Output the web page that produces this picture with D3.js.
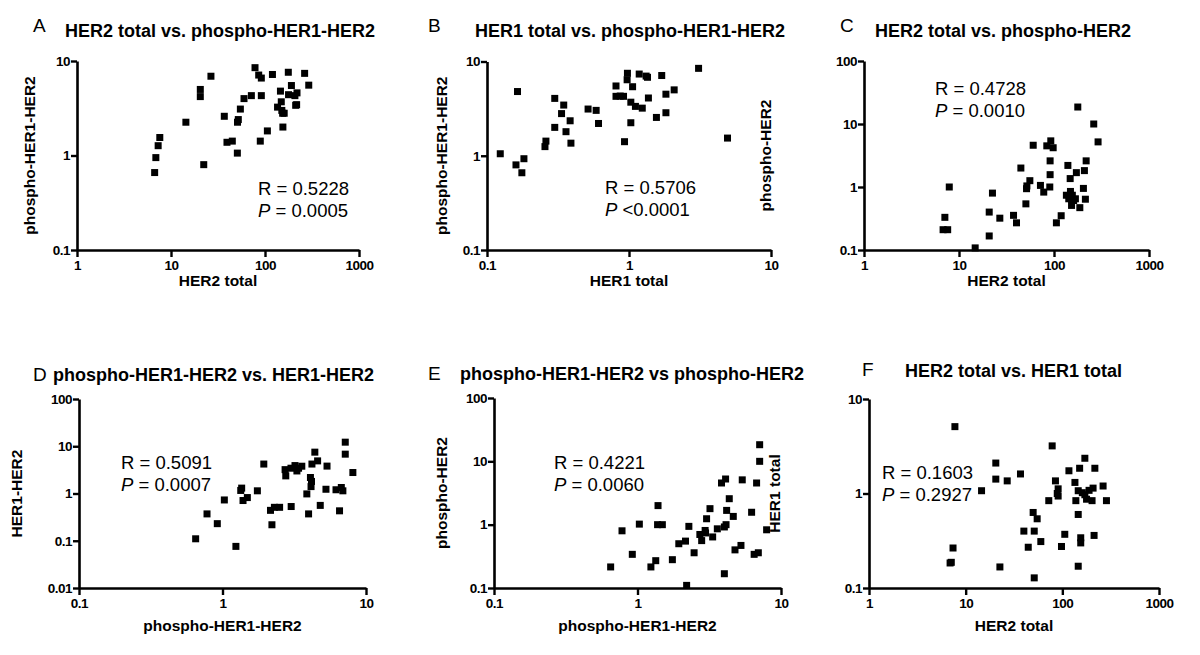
<!DOCTYPE html>
<html><head><meta charset="utf-8">
<script src="https://cdn.jsdelivr.net/npm/d3@7"></script>
<style>body{margin:0;background:#fff} text{font-family:"Liberation Sans",Arial,sans-serif;fill:#000}</style>
</head><body><svg id="c" width="1200" height="655"></svg>
<script>
// ---- data ----
const aX = [6.7,6.9,7.3,7.6,14.4,20.5,20.5,22.3,26.6,36.9,39.4,44.9,50.8,51,52,54.7,59.8,71.6,78.3,85.7,91.4,91.4,89.1,106,120,136,146,149,151,154,160,155,177,178,191,208,219,212,217,264,292];
const aY = [0.66,0.95,1.27,1.55,2.25,5.0,4.2,0.80,6.9,2.6,1.38,1.42,1.06,2.25,2.4,3.1,4.0,4.3,8.5,7.1,6.6,4.3,1.42,1.82,7.2,3.25,4.8,3.7,3.0,2.8,2.8,2.0,7.6,4.4,5.5,4.3,4.6,3.4,3.45,7.4,5.55];

const bX = [0.124,0.164,0.160,0.182,0.176,0.26,0.256,0.30,0.30,0.347,0.335,0.385,0.36,0.39,0.515,0.587,0.61,0.81,0.81,0.867,0.915,0.975,0.97,1.06,1.03,1.11,1.24,1.03,0.93,1.18,1.32,1.35,1.37,1.70,1.82,2.08,1.56,1.82,3.09,4.94];
const bY = [1.05,4.8,0.80,0.93,0.66,1.43,1.25,4.06,2.0,3.45,2.8,2.35,1.8,1.36,3.13,3.03,2.2,5.5,4.27,4.3,4.27,7.5,6.4,5.4,3.7,3.34,3.2,2.24,1.41,7.36,7.0,6.8,4.1,7.1,4.5,5.0,2.55,2.86,8.46,1.54];

const cX = [178,262,291,60.4,84,92.5,98,91,91,90.3,44.8,55.7,51.8,51.4,50.6,72,78,140,172,218,209,148,204,214,135,149,156,143,161,153,168,187,119,106,7.9,7.1,6.8,7.6,22.5,20.8,26.9,20.8,14.8,37.5,40.3];
const cY = [18.6,10,5.2,4.6,4.5,5.4,4.2,2.6,1.57,1.0,2.0,1.26,1.04,0.94,0.54,1.06,0.83,2.2,1.69,2.6,1.82,1.36,0.95,0.64,0.74,0.85,0.74,0.65,0.61,0.51,0.65,0.47,0.35,0.27,1.0,0.33,0.21,0.21,0.80,0.40,0.32,0.167,0.108,0.355,0.27];

const dX = [7.17,7.17,8.1,4.4,4.6,4.2,5.35,1.94,2.73,2.76,3.0,3.2,3.39,3.57,3.3,4.1,4.17,4.14,3.87,3.98,5.26,4.8,6.18,6.73,6.9,6.54,3.01,2.16,2.3,2.5,2.21,1.75,1.36,1.34,1.49,1.39,1.03,0.78,0.92,0.65,1.24];
const dY = [12.2,6.8,2.78,7.5,4.9,4.2,3.8,4.2,3.2,2.36,3.43,3.9,3.43,3.78,3.0,2.18,1.8,1.4,0.98,0.37,1.23,0.56,1.2,1.34,1.14,0.43,0.53,0.44,0.51,0.51,0.218,1.14,1.3,1.16,0.82,0.71,0.73,0.37,0.23,0.11,0.076];

const eX = [7.1,7.1,6.76,5.37,4.11,3.85,4.36,6.24,7.94,4.18,4.65,4.14,4.03,3.2,3.03,3.6,3.34,2.96,2.72,2.8,2.98,2.28,2.16,1.94,2.48,1.75,1.39,1.38,1.49,1.03,0.78,0.92,1.34,1.24,0.65,2.2,4.03,4.78,5.26,6.5,6.95];
const eY = [18.3,10,4.55,5.1,5.26,4.55,2.57,1.57,0.83,1.68,1.35,1.0,0.92,1.79,1.24,0.86,0.64,0.81,0.70,0.56,0.74,0.94,0.55,0.5,0.36,0.28,2.0,1.0,1.0,1.02,0.80,0.34,0.27,0.215,0.215,0.11,0.168,0.40,0.47,0.34,0.36];

const fX = [7.74,7.4,6.9,7.1,14.6,20.5,20.5,26.9,36.9,22.6,78.5,49.9,54.9,40,51.2,44.4,59.9,51.2,72.4,84.9,90.5,90.5,88.6,106,98,117,151,171,217,135,146,138,171,178,189,208,203,264,286,161,146,155,155,213,146];
const fY = [5.1,0.265,0.184,0.187,1.07,2.1,1.42,1.36,1.61,0.167,3.19,0.63,0.54,0.40,0.40,0.27,0.31,0.128,0.84,1.36,1.12,0.94,1.0,0.37,0.275,1.74,1.85,2.36,1.85,1.31,1.07,0.84,0.97,0.87,1.08,1.14,0.84,1.2,0.84,1.02,0.60,0.34,0.30,0.36,0.17];

// tick values
const ticks1to1000 = [1,10,100,1000];
const ticks01to10 = [0.1,1,10];
const ticks01to100 = [0.1,1,10,100];
const ticks001to100 = [0.01,0.1,1,10,100];

// panel texts
const letters = ['A','B','C','D','E','F'];
const titles = ['HER2 total vs. phospho-HER1-HER2','HER1 total vs. phospho-HER1-HER2','HER2 total vs. phospho-HER2',
  'phospho-HER1-HER2 vs. HER1-HER2','phospho-HER1-HER2 vs phospho-HER2','HER2 total vs. HER1 total'];
const xLabels = ['HER2 total','HER1 total','HER2 total','phospho-HER1-HER2','phospho-HER1-HER2','HER2 total'];
const yLabels = ['phospho-HER1-HER2','phospho-HER1-HER2','phospho-HER2','HER1-HER2','phospho-HER2','HER1 total'];
const rValues = ['0.5228','0.5706','0.4728','0.5091','0.4221','0.1603'];
const pValues = ['= 0.0005','<0.0001','= 0.0010','= 0.0007','= 0.0060','= 0.2927'];

// layout (pixels)
const panels = [
 {xs:aX,ys:aY,xd:[1,1000],yd:[0.1,10],xt:ticks1to1000,yt:ticks01to10,x0:77,x1:359,yb:250,yt0:61,let:[33,32],tit:[65,37],ylx:-47,xly:36,st:[258,195]},
 {xs:bX,ys:bY,xd:[0.1,10],yd:[0.1,10],xt:ticks01to10,yt:ticks01to10,x0:487,x1:771,yb:250,yt0:61.5,let:[428,32],tit:[475,37],ylx:-45.5,xly:36,st:[605,194]},
 {xs:cX,ys:cY,xd:[1,1000],yd:[0.1,100],xt:ticks1to1000,yt:ticks01to100,x0:864,x1:1149,yb:250,yt0:61,let:[840,32],tit:[875,37],ylx:-98,xly:36,st:[935,95]},
 {xs:dX,ys:dY,xd:[0.1,10],yd:[0.01,100],xt:ticks01to10,yt:ticks001to100,x0:79,x1:366,yb:588,yt0:399,let:[33,381],tit:[53,381],ylx:-62,xly:43,st:[121,469]},
 {xs:eX,ys:eY,xd:[0.1,10],yd:[0.1,100],xt:ticks01to10,yt:ticks01to100,x0:494,x1:781,yb:588,yt0:398,let:[428,380],tit:[460,380],ylx:-52.5,xly:43,st:[554,469]},
 {xs:fX,ys:fY,xd:[1,1000],yd:[0.1,10],xt:ticks1to1000,yt:ticks01to10,x0:869,x1:1159,yb:588,yt0:399,let:[862,376],tit:[905,377],ylx:-94,xly:43,st:[882,479]}
];

const svg = d3.select('#c');
svg.append('rect').attr('width',1200).attr('height',655).attr('fill','#fff');

const fmt = d => String(d);

panels.forEach((p,i) => {
  const g = svg.append('g');
  const x = d3.scaleLog().domain(p.xd).range([p.x0,p.x1]);
  const y = d3.scaleLog().domain(p.yd).range([p.yb,p.yt0]);

  // points
  g.append('g').selectAll('rect').data(p.xs.map((v,k)=>[v,p.ys[k]])).join('rect')
    .attr('x',d=>x(d[0])-3.5).attr('y',d=>y(d[1])-3.5)
    .attr('width',7).attr('height',7).attr('fill','#000');

  // axes
  const gx = g.append('g').attr('transform',`translate(0,${p.yb})`)
    .call(d3.axisBottom(x).tickValues(p.xt).tickFormat(fmt).tickSize(7).tickPadding(3).tickSizeOuter(0));
  const gy = g.append('g').attr('transform',`translate(${p.x0},0)`)
    .call(d3.axisLeft(y).tickValues(p.yt).tickFormat(fmt).tickSize(6).tickPadding(1).tickSizeOuter(0));
  [gx,gy].forEach(a=>{
    a.select('.domain').attr('stroke','#000').attr('stroke-width',2.6);
    a.selectAll('.tick line').attr('stroke','#000').attr('stroke-width',2.4);
    a.selectAll('.tick text').attr('font-size',13.5).attr('font-weight','bold')
      .attr('font-family','"Liberation Sans",Arial,sans-serif').attr('fill','#000').attr('letter-spacing','-0.5');
  });

  // letter + title
  g.append('text').attr('x',p.let[0]).attr('y',p.let[1]).attr('font-size',19).text(letters[i]);
  g.append('text').attr('x',p.tit[0]).attr('y',p.tit[1]).attr('font-size',18).attr('font-weight','bold').text(titles[i]);

  // axis labels
  g.append('text').attr('x',(p.x0+p.x1)/2).attr('y',p.yb+p.xly).attr('text-anchor','middle')
    .attr('font-size',15.5).attr('font-weight','bold').text(xLabels[i]);
  const cy = (p.yb+p.yt0)/2, cx = p.x0 + p.ylx;
  g.append('text').attr('transform',`translate(${cx},${cy}) rotate(-90)`).attr('text-anchor','middle')
    .attr('dy','0.35em').attr('font-size',15.5).attr('font-weight','bold').text(yLabels[i]);

  // stats
  g.append('text').attr('x',p.st[0]).attr('y',p.st[1]).attr('font-size',18.5).text('R = ' + rValues[i]);
  const t2 = g.append('text').attr('x',p.st[0]).attr('y',p.st[1]+21.5).attr('font-size',18.5);
  t2.append('tspan').attr('font-style','italic').text('P');
  t2.append('tspan').text(' ' + pValues[i]);
});
</script>
</body></html>
